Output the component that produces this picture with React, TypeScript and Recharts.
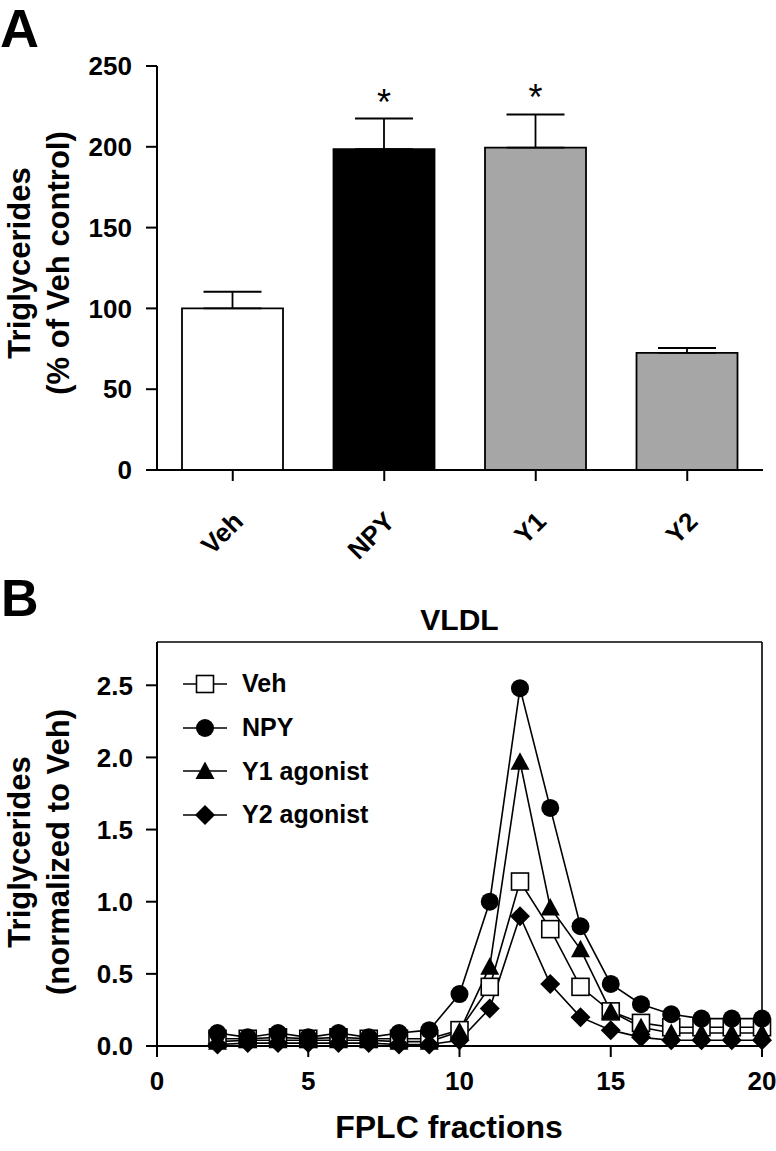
import React from "react";
import {
  BarChart,
  Bar,
  Cell,
  XAxis,
  YAxis,
  ErrorBar,
  LabelList,
  Label,
  LineChart,
  Line,
  Legend,
  ReferenceLine,
} from "recharts";

const FONT = "'Liberation Sans', Arial, Helvetica, sans-serif";

// panel A - plasma TG, % of vehicle
const groups = ["Veh", "NPY", "Y1", "Y2"];
const groupMeans = [100, 198.5, 199.5, 72.5];
const groupSem = [10.3, 19, 20.5, 3];
const groupSig = ["", "*", "*", ""];
const groupFills = ["#ffffff", "#000000", "#a6a6a6", "#a6a6a6"];
const tgTicks = [0, 50, 100, 150, 200, 250];

// panel B - VLDL FPLC profile
const fractions = [2, 3, 4, 5, 6, 7, 8, 9, 10, 11, 12, 13, 14, 15, 16, 17, 18, 19, 20];
const vehTG = [0.05, 0.05, 0.06, 0.05, 0.06, 0.05, 0.05, 0.05, 0.11, 0.41, 1.14, 0.81, 0.41, 0.24, 0.16, 0.13, 0.13, 0.13, 0.13];
const npyTG = [0.09, 0.06, 0.09, 0.06, 0.09, 0.06, 0.09, 0.11, 0.36, 1.0, 2.48, 1.65, 0.83, 0.43, 0.29, 0.22, 0.19, 0.19, 0.19];
const y1TG = [0.03, 0.04, 0.04, 0.04, 0.04, 0.04, 0.03, 0.03, 0.1, 0.55, 1.97, 0.96, 0.67, 0.24, 0.13, 0.09, 0.09, 0.09, 0.09];
const y2TG = [0.01, 0.02, 0.02, 0.02, 0.02, 0.02, 0.01, 0.01, 0.04, 0.26, 0.9, 0.43, 0.2, 0.11, 0.06, 0.04, 0.04, 0.04, 0.04];
const fractionTicks = [0, 5, 10, 15, 20];
const normTicks = [0, 0.5, 1.0, 1.5, 2.0, 2.5];

const seriesDefs = [
  { key: "veh", name: "Veh", values: vehTG, marker: "square" },
  { key: "npy", name: "NPY", values: npyTG, marker: "circle" },
  { key: "y1", name: "Y1 agonist", values: y1TG, marker: "triangle" },
  { key: "y2", name: "Y2 agonist", values: y2TG, marker: "diamond" },
];

const barData = groups.map((g, i) => ({
  group: g,
  mean: groupMeans[i],
  err: [0, groupSem[i]],
}));

const lineData = fractions.map((f, i) => {
  const row: any = { fraction: f };
  seriesDefs.forEach((s) => (row[s.key] = s.values[i]));
  return row;
});

function Marker({ kind, cx, cy }: { kind: string; cx: number; cy: number }) {
  if (kind === "square")
    return <rect x={cx - 8.5} y={cy - 8.5} width={17} height={17} fill="#fff" stroke="#000" strokeWidth={1.6} />;
  if (kind === "circle") return <circle cx={cx} cy={cy} r={9} fill="#000" />;
  if (kind === "triangle")
    return <polygon points={`${cx},${cy - 9.5} ${cx + 9.5},${cy + 8} ${cx - 9.5},${cy + 8}`} fill="#000" />;
  return <polygon points={`${cx},${cy - 10} ${cx + 10},${cy} ${cx},${cy + 10} ${cx - 10},${cy}`} fill="#000" />;
}

const StarLabel = (props: any) => {
  const vb = props.viewBox || props;
  const { x, y, width } = vb;
  const height = Math.abs(vb.height);
  const i = props.index;
  if (!groupSig[i]) return null;
  const pxPerUnit = height / groupMeans[i];
  const errTop = y - groupSem[i] * pxPerUnit;
  return (
    <text x={x + width / 2} y={errTop - 4} textAnchor="middle" fontSize={36} fontFamily={FONT} fill="#000">
      {groupSig[i]}
    </text>
  );
};

const GroupTick = ({ x, y, payload }: any) => (
  <g transform={`translate(${x + 12},${y + 40})`}>
    <text textAnchor="end" transform="rotate(-45)" fontSize={26} fontWeight="bold" fontFamily={FONT} fill="#000">
      {payload.value}
    </text>
  </g>
);

const TwoLineTitle = ({ a, b, cy }: { a: string; b: string; cy: number }) => (
  <g fontFamily={FONT} fontWeight="bold" fontSize={31} fill="#000">
    <text transform={`translate(30,${cy}) rotate(-90)`} textAnchor="middle">{a}</text>
    <text transform={`translate(69,${cy}) rotate(-90)`} textAnchor="middle">{b}</text>
  </g>
);

const renderLegend = () => (
  <div style={{ fontFamily: FONT }}>
    {seriesDefs.map((s) => (
      <div key={s.key} style={{ display: "flex", alignItems: "center", height: 43.7 }}>
        <svg width={46} height={24}>
          <line x1={0} y1={12} x2={44} y2={12} stroke="#000" strokeWidth={1.6} />
          <Marker kind={s.marker} cx={22} cy={12} />
        </svg>
        <span style={{ marginLeft: 13, fontSize: 25, fontWeight: "bold", color: "#000" }}>{s.name}</span>
      </div>
    ))}
  </div>
);

const tickStyle = { fontSize: 26, fontWeight: "bold", fill: "#000", fontFamily: FONT };
const axisLine = { stroke: "#000", strokeWidth: 2 };

export default function App() {
  return (
    <div style={{ position: "absolute", left: 0, top: 0, width: 776, height: 1151, background: "#fff" }}>
      <div style={{ position: "absolute", left: 0, top: 1, fontFamily: FONT, fontWeight: "bold", fontSize: 54, lineHeight: "54px" }}>A</div>
      <div style={{ position: "absolute", left: 1, top: 572, fontFamily: FONT, fontWeight: "bold", fontSize: 52, lineHeight: "52px" }}>B</div>
      <div style={{ position: "absolute", left: 157, width: 605, top: 605, textAlign: "center", fontFamily: FONT, fontWeight: "bold", fontSize: 30, lineHeight: "30px" }}>VLDL</div>

      <div style={{ position: "absolute", left: 0, top: 0 }}>
        <BarChart width={776} height={585} data={barData} margin={{ top: 66, right: 13, left: 77, bottom: 0 }}>
          <XAxis
            dataKey="group"
            height={115}
            tickSize={11}
            tickMargin={2}
            axisLine={axisLine}
            tickLine={axisLine}
            tick={<GroupTick />}
            interval={0}
          />
          <YAxis
            width={80}
            domain={[0, 250]}
            ticks={tgTicks}
            tickSize={11}
            tickMargin={14}
            axisLine={axisLine}
            tickLine={axisLine}
            tick={tickStyle}
            label={<Label content={() => <TwoLineTitle a="Triglycerides" b="(% of Veh control)" cy={263} />} />}
          />
          <Bar dataKey="mean" barSize={101} stroke="#000" strokeWidth={1.8} isAnimationActive={false}>
            {barData.map((d, i) => (
              <Cell key={d.group} fill={groupFills[i]} />
            ))}
            <ErrorBar dataKey="err" width={29} stroke="#000" strokeWidth={1.8} direction="y" />
            <LabelList dataKey="mean" content={<StarLabel />} />
          </Bar>
        </BarChart>
      </div>

      <div style={{ position: "absolute", left: 0, top: 560 }}>
        <LineChart width={776} height={591} data={lineData} margin={{ top: 82, right: 14, left: 77, bottom: 0 }}>
          <XAxis
            type="number"
            dataKey="fraction"
            domain={[0, 20]}
            ticks={fractionTicks}
            height={105}
            tickSize={11}
            tickMargin={15}
            axisLine={axisLine}
            tickLine={axisLine}
            tick={tickStyle}
            label={
              <Label
                content={() => (
                  <text x={449} y={578} textAnchor="middle" fontFamily={FONT} fontWeight="bold" fontSize={32} fill="#000">
                    FPLC fractions
                  </text>
                )}
              />
            }
          />
          <YAxis
            width={80}
            domain={[0, 2.8]}
            ticks={normTicks}
            tickFormatter={(v: number) => v.toFixed(1)}
            tickSize={11}
            tickMargin={13}
            axisLine={axisLine}
            tickLine={axisLine}
            tick={tickStyle}
            label={<Label content={() => <TwoLineTitle a="Triglycerides" b="(normalized to Veh)" cy={292} />} />}
          />
          <ReferenceLine y={2.8} stroke="#000" strokeWidth={1.6} ifOverflow="visible" />
          <ReferenceLine x={20} stroke="#000" strokeWidth={1.6} ifOverflow="visible" />
          {seriesDefs.map((s) => (
            <Line
              key={s.key}
              dataKey={s.key}
              name={s.name}
              type="linear"
              stroke="#000"
              strokeWidth={1.6}
              isAnimationActive={false}
              dot={(p: any) => <Marker key={`${s.key}-${p.index}`} kind={s.marker} cx={p.cx} cy={p.cy} />}
              activeDot={false}
            />
          ))}
          <Legend
            layout="vertical"
            align="center"
            verticalAlign="middle"
            content={renderLegend}
            wrapperStyle={{ left: 183, top: 102, width: "auto", height: "auto" }}
          />
        </LineChart>
      </div>
    </div>
  );
}
